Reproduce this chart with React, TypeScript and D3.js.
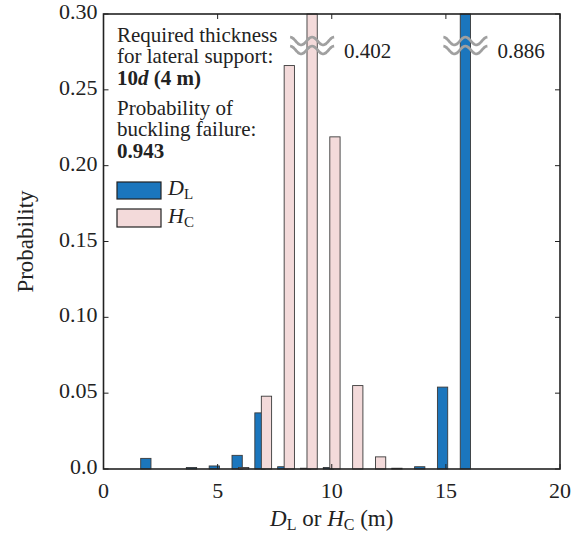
import React from "react";
import * as d3 from "d3";

const positions = [2, 3, 4, 5, 6, 7, 8, 9, 10, 11, 12, 13, 14, 15, 16];
const dlValues = [0.007, 0, 0.001, 0.002, 0.009, 0.037, 0.0015, 0.0005, 0.001, 0, 0, 0.0005, 0.0015, 0.054, 0.886];
const hcValues = [0, 0, 0, 0, 0.001, 0.048, 0.266, 0.402, 0.219, 0.055, 0.008, 0, 0, 0, 0];
const xTicks = [0, 5, 10, 15, 20];
const yTicks = [0, 0.05, 0.1, 0.15, 0.2, 0.25, 0.3];
const yTickLabels = ["0.0", "0.05", "0.10", "0.15", "0.20", "0.25", "0.30"];

const W = 576, H = 537;
const L = 103.5, R = 560, T = 14, B = 469;
const FONT = "'Liberation Serif', 'Times New Roman', serif";
const BLUE = "#1b76bd";
const PINK = "#f3dada";
const BAR_W = 0.45;

export default function App() {
  const x = d3.scaleLinear().domain([0, 20]).range([L, R]);
  const y = d3.scaleLinear().domain([0, 0.3]).range([B, T]);
  const yMax = 0.3;

  const bars = (vals: number[], offset: number, fill: string, key: string) =>
    positions.map((p, i) => {
      const v = vals[i];
      if (v <= 0) return null;
      const x0 = x(p + offset - BAR_W / 2);
      const x1 = x(p + offset + BAR_W / 2);
      const yt = y(Math.min(v, yMax));
      return (
        <rect key={key + i} x={x0} y={yt} width={x1 - x0} height={B - yt}
          fill={fill} stroke="#3a3a3a" strokeWidth={0.9} />
      );
    });

  const wave = (cx: number, cy: number) => {
    const pts: [number, number][] = [];
    for (let t = -22; t <= 22; t += 1) pts.push([cx + t, cy - 4 * Math.cos(((t + 22) / 22) * 2 * Math.PI)]);
    return d3.line().curve(d3.curveBasis)(pts) || "";
  };

  const breaks: { cx: number; v: number }[] = [];
  positions.forEach((p, i) => {
    if (dlValues[i] > yMax) breaks.push({ cx: x(p - 0.145), v: dlValues[i] });
    if (hcValues[i] > yMax) breaks.push({ cx: x(p + 0.14), v: hcValues[i] });
  });

  return (
    <svg width={W} height={H} style={{ position: "absolute", left: 0, top: 0, background: "#fff" }} fontFamily={FONT}>
      <rect x={0} y={0} width={W} height={H} fill="#fff" />
      {bars(dlValues, -0.145, BLUE, "dl")}
      {bars(hcValues, 0.14, PINK, "hc")}
      {breaks.map((b, i) => (
        <g key={"br" + i}>
          <path d={wave(b.cx, 41)} fill="none" stroke="#a0a0a0" strokeWidth={2.8} />
          <path d={wave(b.cx, 50)} fill="none" stroke="#a0a0a0" strokeWidth={2.8} />
          <text x={b.cx + 32} y={53} fontSize={21} dominantBaseline="middle" fill="#222">{b.v.toFixed(3)}</text>
        </g>
      ))}
      {/* frame */}
      <rect x={L} y={T} width={R - L} height={B - T} fill="none" stroke="#222" strokeWidth={1.6} />
      {xTicks.map((t) => (
        <g key={"xt" + t}>
          <line x1={x(t)} x2={x(t)} y1={B} y2={B - 5} stroke="#222" />
          <line x1={x(t)} x2={x(t)} y1={T} y2={T + 5} stroke="#222" />
          <text x={x(t)} y={B + 24} fontSize={22} textAnchor="middle" dominantBaseline="middle" fill="#222">{t}</text>
        </g>
      ))}
      {yTicks.map((t, i) => (
        <g key={"yt" + t}>
          <line x1={L} x2={L + 5} y1={y(t)} y2={y(t)} stroke="#222" />
          <line x1={R} x2={R - 5} y1={y(t)} y2={y(t)} stroke="#222" />
          <text x={L - 6} y={y(t)} fontSize={22} textAnchor="end" dominantBaseline="middle" fill="#222">{yTickLabels[i]}</text>
        </g>
      ))}
      <text transform={`translate(28,${(T + B) / 2}) rotate(-90)`} fontSize={23} textAnchor="middle" dominantBaseline="middle" fill="#222">Probability</text>
      <text x={(L + R) / 2} y={521} fontSize={23} textAnchor="middle" dominantBaseline="middle" fill="#222">
        <tspan fontStyle="italic">D</tspan><tspan fontSize={16} dy={5}>L</tspan>
        <tspan dy={-5}> or </tspan>
        <tspan fontStyle="italic">H</tspan><tspan fontSize={16} dy={5}>C</tspan>
        <tspan dy={-5}> (m)</tspan>
      </text>
      {/* annotation */}
      <g fontSize={21} fill="#222">
        <text x={117} y={42}>Required thickness</text>
        <text x={117} y={63}>for lateral support:</text>
        <text x={117} y={85} fontWeight="bold">10<tspan fontStyle="italic">d</tspan> (4 m)</text>
        <text x={117} y={115}>Probability of</text>
        <text x={117} y={136}>buckling failure:</text>
        <text x={117} y={158} fontWeight="bold">0.943</text>
      </g>
      {/* legend */}
      <rect x={117} y={182} width={44} height={17} fill={BLUE} stroke="#222" strokeWidth={1.2} />
      <rect x={117} y={209} width={44} height={18} fill={PINK} stroke="#222" strokeWidth={1.2} />
      <text x={168} y={195} fontSize={22} fill="#222">
        <tspan fontStyle="italic">D</tspan><tspan fontSize={15} dy={4}>L</tspan>
      </text>
      <text x={168} y={223} fontSize={22} fill="#222">
        <tspan fontStyle="italic">H</tspan><tspan fontSize={15} dy={4}>C</tspan>
      </text>
    </svg>
  );
}
